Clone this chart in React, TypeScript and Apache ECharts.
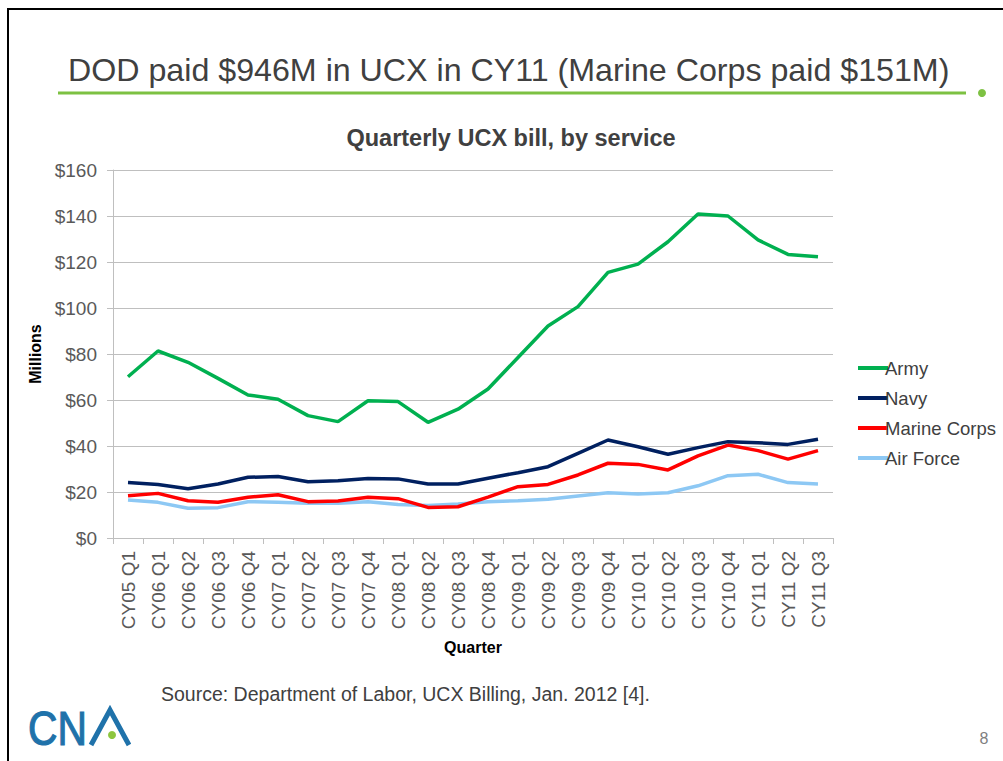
import React, { useEffect, useRef } from "react";
import * as echarts from "echarts";

const categories = [
  "CY05 Q1", "CY06 Q1", "CY06 Q2", "CY06 Q3", "CY06 Q4", "CY07 Q1", "CY07 Q2", "CY07 Q3",
  "CY07 Q4", "CY08 Q1", "CY08 Q2", "CY08 Q3", "CY08 Q4", "CY09 Q1", "CY09 Q2", "CY09 Q3",
  "CY09 Q4", "CY10 Q1", "CY10 Q2", "CY10 Q3", "CY10 Q4", "CY11 Q1", "CY11 Q2", "CY11 Q3",
];

const army = [70.1, 81.3, 76.4, 69.4, 62.2, 60.3, 53.2, 50.6, 59.7, 59.3, 50.3, 56.0, 64.8, 78.5, 92.2, 100.6, 115.5, 119.1, 128.8, 140.9, 140.0, 129.6, 123.3, 122.3];
const navy = [24.1, 23.3, 21.4, 23.5, 26.4, 26.7, 24.5, 24.9, 25.9, 25.7, 23.5, 23.5, 26.0, 28.4, 31.0, 36.8, 42.6, 39.7, 36.4, 39.3, 41.9, 41.4, 40.7, 42.9];
const marineCorps = [18.4, 19.4, 16.2, 15.5, 17.7, 18.8, 15.8, 16.1, 17.7, 17.1, 13.3, 13.6, 17.8, 22.3, 23.3, 27.4, 32.5, 32.0, 29.6, 35.7, 40.4, 38.0, 34.3, 38.0];
const airForce = [16.5, 15.5, 12.9, 13.2, 15.8, 15.5, 15.1, 15.1, 15.8, 14.6, 14.1, 14.8, 15.8, 16.2, 16.8, 18.3, 19.7, 19.1, 19.7, 22.7, 27.1, 27.7, 24.1, 23.5];

const seriesNames = ["Army", "Navy", "Marine Corps", "Air Force"];
const seriesColors = ["#00B050", "#002060", "#FF0000", "#8DC8F4"];

const slideTitle = "DOD paid $946M in UCX in CY11 (Marine Corps paid $151M)";
const chartTitle = "Quarterly UCX bill, by service";
const sourceText = "Source: Department of Labor, UCX Billing, Jan. 2012 [4].";

const FONT = "'Liberation Sans', Arial, Helvetica, sans-serif";

export default function App() {
  const ref = useRef<HTMLDivElement>(null);

  useEffect(() => {
    if (!ref.current) return;
    const chart = echarts.init(ref.current, null, { renderer: "svg" });
    const data = [army, navy, marineCorps, airForce];

    chart.setOption({
      animation: false,
      backgroundColor: "#ffffff",
      textStyle: { fontFamily: FONT },
      grid: { left: 113, right: 170, top: 170, bottom: 223, containLabel: false },
      legend: {
        orient: "vertical",
        left: 853,
        top: 353,
        itemWidth: 30,
        itemHeight: 4,
        itemGap: 10,
        icon: "rect",
        data: seriesNames,
        textStyle: { fontSize: 18.5, color: "#404040", fontFamily: FONT, lineHeight: 20, padding: [0, 0, 0, -8] },
      },
      xAxis: {
        type: "category",
        data: categories,
        boundaryGap: true,
        name: "Quarter",
        nameLocation: "middle",
        nameGap: 101,
        nameTextStyle: { fontSize: 16, fontWeight: "bold", color: "#000000", fontFamily: FONT },
        axisLine: { show: true, lineStyle: { color: "#BFBFBF", width: 1 } },
        axisTick: { show: true, length: 6, alignWithLabel: false, lineStyle: { color: "#BFBFBF" } },
        axisLabel: { rotate: 90, fontSize: 19, color: "#595959", margin: 13, interval: 0, fontFamily: FONT },
        splitLine: { show: false },
      },
      yAxis: {
        type: "value",
        min: 0,
        max: 160,
        interval: 20,
        name: "Millions",
        nameLocation: "middle",
        nameGap: 69,
        nameRotate: 90,
        nameTextStyle: { fontSize: 16, fontWeight: "bold", color: "#000000", fontFamily: FONT },
        axisLine: { show: true, lineStyle: { color: "#BFBFBF", width: 1 } },
        axisTick: { show: true, length: 6, lineStyle: { color: "#BFBFBF" } },
        axisLabel: { fontSize: 19, color: "#595959", margin: 16, formatter: "${value}", fontFamily: FONT },
        splitLine: { show: true, lineStyle: { color: "#BFBFBF", width: 1 } },
      },
      series: seriesNames.map((name, i) => ({
        name,
        type: "line",
        data: data[i],
        symbol: "none",
        smooth: false,
        lineStyle: { color: seriesColors[i], width: 3.5 },
        itemStyle: { color: seriesColors[i] },
        z: 10 - i,
      })),
      graphic: [
        {
          type: "rect",
          shape: { x: 8, y: 9, width: 1100, height: 900 },
          style: { fill: "none", stroke: "#000000", lineWidth: 2 },
          silent: true,
        },
        {
          type: "text",
          x: 68,
          y: 70,
          style: { text: slideTitle, fontSize: 32.2, fill: "#404040", fontFamily: FONT, verticalAlign: "middle", align: "left" },
        },
        {
          type: "line",
          shape: { x1: 58, y1: 93, x2: 966, y2: 93 },
          style: { stroke: "#7DC142", lineWidth: 3 },
        },
        {
          type: "circle",
          shape: { cx: 982, cy: 93, r: 4 },
          style: { fill: "#7DC142" },
        },
        {
          type: "text",
          x: 511,
          y: 138,
          style: { text: chartTitle, fontSize: 23.5, fontWeight: "bold", fill: "#404040", fontFamily: FONT, align: "center", verticalAlign: "middle" },
        },
        {
          type: "text",
          x: 161,
          y: 694,
          style: { text: sourceText, fontSize: 19.5, fill: "#404040", fontFamily: FONT, verticalAlign: "middle", align: "left" },
        },
        {
          type: "text",
          x: 28,
          y: 728,
          scaleX: 0.85,
          style: { text: "CN", fontSize: 48, fill: "#1F72AA", stroke: "#1F72AA", lineWidth: 1.2, fontFamily: FONT, verticalAlign: "middle", align: "left" },
        },
        {
          type: "polyline",
          shape: { points: [[91, 745], [110, 710], [129, 745]] },
          style: { stroke: "#1F72AA", lineWidth: 5, fill: "none", lineJoin: "miter" },
        },
        {
          type: "circle",
          shape: { cx: 112, cy: 735, r: 4 },
          style: { fill: "#8DC63F" },
        },
        {
          type: "text",
          x: 984,
          y: 738,
          style: { text: "8", fontSize: 16, fill: "#7F7F7F", fontFamily: FONT, align: "center", verticalAlign: "middle" },
        },
      ],
    });

    return () => chart.dispose();
  }, []);

  return (
    <div
      ref={ref}
      style={{ position: "absolute", left: 0, top: 0, width: 1003, height: 761, background: "#ffffff" }}
    />
  );
}
